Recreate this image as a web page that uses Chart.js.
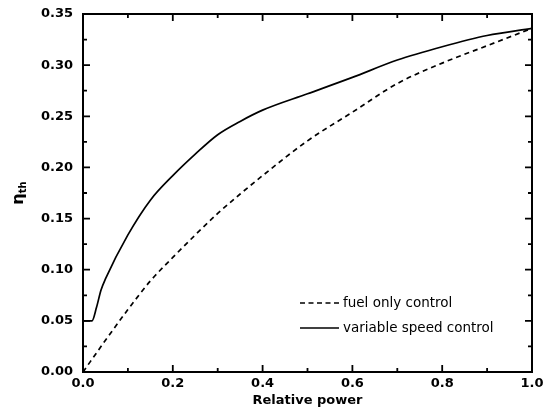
<!DOCTYPE html>
<html>
<head>
<meta charset="utf-8">
<script src="https://cdn.jsdelivr.net/npm/chart.js@4/dist/chart.umd.min.js"></script>
<style>
  body { margin: 0; background: #fff; }
  #chart { display: block; }
</style>
</head>
<body>
<canvas id="chart" width="550" height="417"></canvas>
<script>
//relative power points for each curve
const relPowerVar = [0, 0.02, 0.03, 0.04, 0.05, 0.1, 0.15, 0.2, 0.25, 0.3, 0.35, 0.4, 0.5, 0.6, 0.7, 0.8, 0.9, 1.0];
const etaVar = [0.05, 0.05, 0.063, 0.080, 0.091, 0.134, 0.168, 0.192, 0.213, 0.232, 0.245, 0.256, 0.272, 0.288, 0.305, 0.318, 0.329, 0.336];
const relPowerFuel = [0, 0.05, 0.1, 0.15, 0.2, 0.25, 0.3, 0.35, 0.4, 0.5, 0.6, 0.7, 0.8, 0.9, 1.0];
const etaFuel = [0, 0.031, 0.061, 0.089, 0.112, 0.134, 0.155, 0.174, 0.192, 0.226, 0.254, 0.282, 0.302, 0.319, 0.336];
//legend labels
const seriesNames = ["fuel only control", "variable speed control"];
const xTitle = "Relative power";

const FONT = "DejaVu Sans";

const toPoints = (xs, ys) => xs.map((x, i) => ({ x: x, y: ys[i] }));

//frame, inward ticks, legend and titles
const framePlugin = {
  id: "frame",
  afterDraw(chart) {
    const ctx = chart.ctx;
    const a = chart.chartArea;
    const xs = chart.scales.x;
    const ys = chart.scales.y;
    ctx.save();
    ctx.strokeStyle = "#000";
    ctx.lineWidth = 2;
    ctx.strokeRect(a.left, a.top, a.right - a.left, a.bottom - a.top);
    //x ticks top and bottom
    ctx.lineWidth = 1.8;
    for (let i = 0; i <= 10; i++) {
      const px = xs.getPixelForValue(i / 10);
      const len = i % 2 === 0 ? 7 : 4;
      ctx.beginPath();
      ctx.moveTo(px, a.bottom);
      ctx.lineTo(px, a.bottom - len);
      ctx.moveTo(px, a.top);
      ctx.lineTo(px, a.top + len);
      ctx.stroke();
    }
    //y ticks left and right
    for (let i = 0; i <= 14; i++) {
      const py = ys.getPixelForValue(i * 0.025);
      const len = i % 2 === 0 ? 7 : 4;
      ctx.beginPath();
      ctx.moveTo(a.left, py);
      ctx.lineTo(a.left + len, py);
      ctx.moveTo(a.right, py);
      ctx.lineTo(a.right - len, py);
      ctx.stroke();
    }
    //legend
    ctx.lineWidth = 1.5;
    ctx.font = "13.5px " + FONT;
    ctx.fillStyle = "#000";
    ctx.textBaseline = "middle";
    ctx.textAlign = "left";
    const legendY = [303, 328];
    const dashes = [[5, 3.5], []];
    seriesNames.forEach((name, i) => {
      ctx.setLineDash(dashes[i]);
      ctx.beginPath();
      ctx.moveTo(300, legendY[i]);
      ctx.lineTo(339, legendY[i]);
      ctx.stroke();
      ctx.setLineDash([]);
      ctx.fillText(name, 343, legendY[i]);
    });
    //x title
    ctx.font = "bold 13px " + FONT;
    ctx.textAlign = "center";
    ctx.textBaseline = "alphabetic";
    ctx.fillText(xTitle, (a.left + a.right) / 2, 404);
    //y title: eta with subscript th
    ctx.translate(23, 193);
    ctx.rotate(-Math.PI / 2);
    ctx.font = "bold 16px " + FONT;
    const wEta = ctx.measureText("\u03b7").width;
    ctx.font = "bold 10px " + FONT;
    const wSub = ctx.measureText("th").width;
    const start = -(wEta + wSub) / 2;
    ctx.textAlign = "left";
    ctx.font = "bold 16px " + FONT;
    ctx.fillText("\u03b7", start, 0);
    ctx.font = "bold 10px " + FONT;
    ctx.fillText("th", start + wEta, 3);
    ctx.restore();
  },
};

new Chart(document.getElementById("chart"), {
  type: "line",
  plugins: [framePlugin],
  data: {
    datasets: [
      {
        label: seriesNames[0],
        data: toPoints(relPowerFuel, etaFuel),
        borderColor: "#000",
        borderWidth: 1.7,
        borderDash: [5, 4],
        pointRadius: 0,
        cubicInterpolationMode: "monotone",
        fill: false,
      },
      {
        label: seriesNames[1],
        data: toPoints(relPowerVar, etaVar),
        borderColor: "#000",
        borderWidth: 1.7,
        pointRadius: 0,
        cubicInterpolationMode: "monotone",
        fill: false,
      },
    ],
  },
  options: {
    responsive: false,
    animation: false,
    layout: { padding: { left: 0, right: 18, top: 14, bottom: 0 } },
    plugins: {
      legend: { display: false },
      tooltip: { enabled: false },
    },
    scales: {
      x: {
        type: "linear",
        min: 0,
        max: 1,
        grid: { display: false, drawTicks: false },
        border: { display: false },
        ticks: {
          stepSize: 0.2,
          padding: 4,
          color: "#000",
          font: { family: FONT, size: 13, weight: "bold" },
          callback: (v) => v.toFixed(1),
        },
        afterFit: (scale) => { scale.height = 45; },
      },
      y: {
        min: 0,
        max: 0.35,
        grid: { display: false, drawTicks: false },
        border: { display: false },
        ticks: {
          stepSize: 0.05,
          padding: 10,
          color: "#000",
          font: { family: FONT, size: 13, weight: "bold" },
          callback: (v) => v.toFixed(2),
        },
        afterFit: (scale) => {
          scale.width = 83;
          scale.paddingTop = 0;
          scale.paddingBottom = 0;
        },
      },
    },
  },
});
</script>
</body>
</html>
